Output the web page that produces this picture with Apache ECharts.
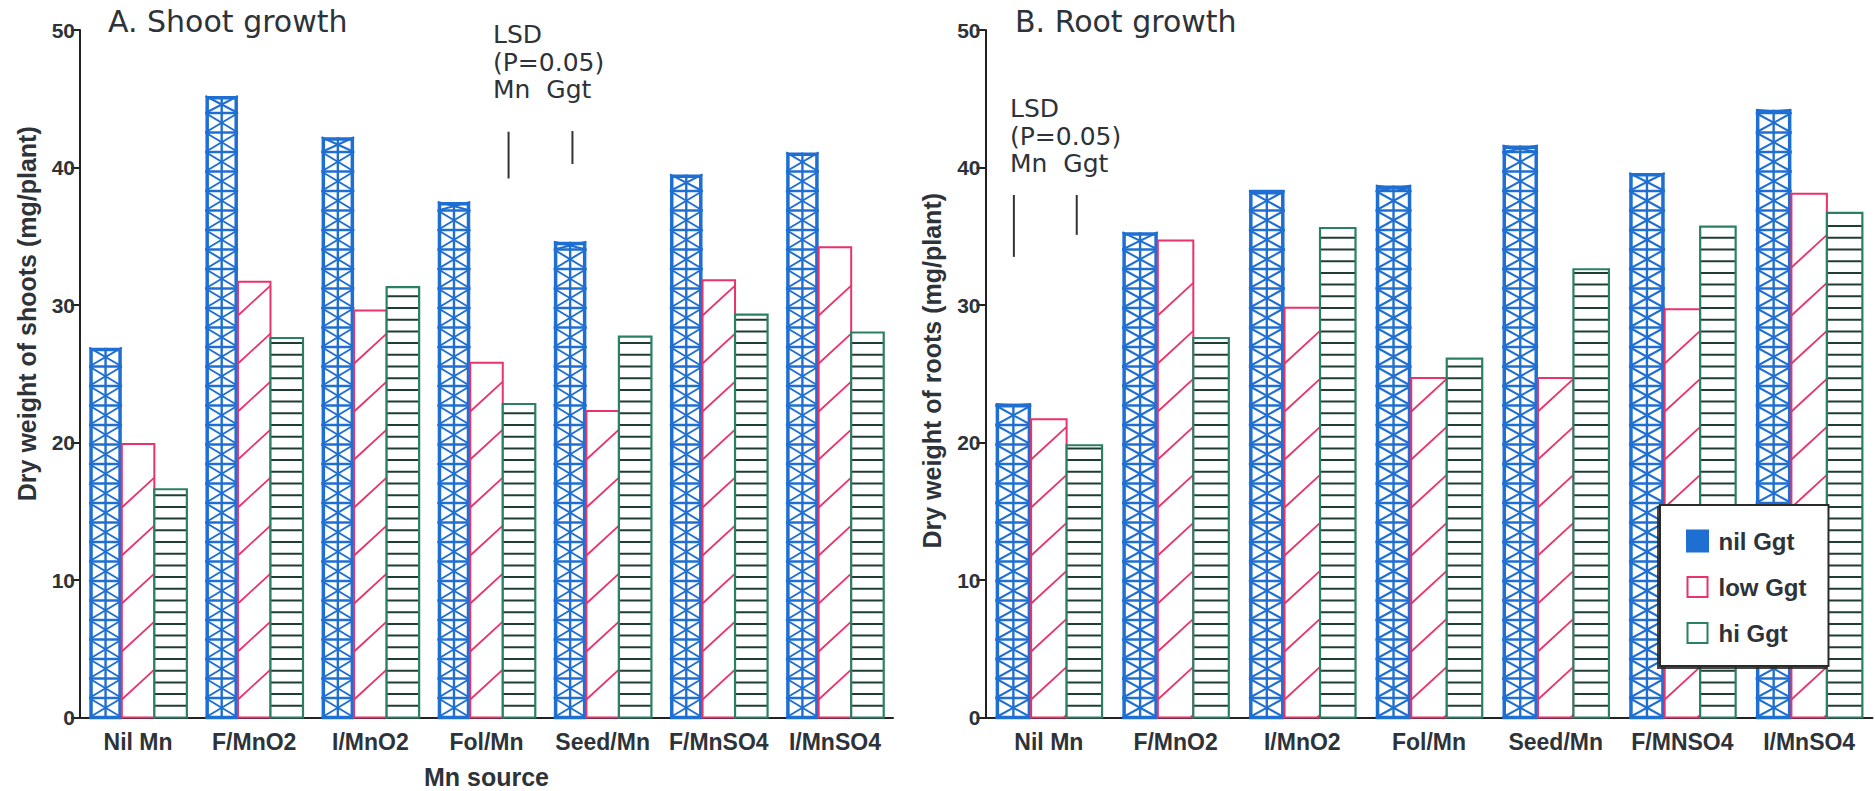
<!DOCTYPE html>
<html>
<head>
<meta charset="utf-8">
<script src="https://cdn.jsdelivr.net/npm/echarts@6/dist/echarts.min.js"></script>
<style>
html,body{margin:0;padding:0;background:#fff;}
#chart{width:1875px;height:791px;}
</style>
</head>
<body>
<div id="chart"></div>
<script>
// ---------- data ----------
const categoriesShoot = ['Nil Mn', 'F/MnO2', 'I/MnO2', 'Fol/Mn', 'Seed/Mn', 'F/MnSO4', 'I/MnSO4'];
const categoriesRoot  = ['Nil Mn', 'F/MnO2', 'I/MnO2', 'Fol/Mn', 'Seed/Mn', 'F/MNSO4', 'I/MnSO4'];
const seriesNames = ['nil Ggt', 'low Ggt', 'hi Ggt'];

const shootNil = [26.9, 45.2, 42.2, 37.5, 34.6, 39.5, 41.1];
const shootLow = [19.9, 31.7, 29.6, 25.8, 22.3, 31.8, 34.2];
const shootHi  = [16.6, 27.6, 31.3, 22.8, 27.7, 29.3, 28.0];

const rootNil = [22.8, 35.3, 38.3, 38.7, 41.6, 39.6, 44.2];
const rootLow = [21.7, 34.7, 29.8, 24.7, 24.7, 29.7, 38.1];
const rootHi  = [19.8, 27.6, 35.6, 26.1, 32.6, 35.7, 36.7];

// LSD bars: [low, high, position in category units]
const lsdShootMn  = [39.2, 42.6, 3.19];
const lsdShootGgt = [40.25, 42.65, 3.74];
const lsdRootMn   = [33.5, 38.0, -0.276];
const lsdRootGgt  = [35.1, 38.0, 0.22];

const yTicks = [0, 10, 20, 30, 40, 50];

// ---------- styles ----------
const BLUE = '#1f6fd2', RED = '#e8336b', GREEN = '#2a8062', GREEN_LINE = '#1f3d33', INK = '#2d3338';
const GROUP_RATIO = 0.84;
const FONT_B = 'Liberation Sans, Arial, sans-serif';
const FONT_T = 'DejaVu Sans, sans-serif';

function clipDiag(xa, ya, xb, yb, top, bottom) {
  if (yb > bottom || ya < top) return null;
  const slope = (yb - ya) / (xb - xa);
  if (ya > bottom) { xa = xa + (bottom - ya) / slope; ya = bottom; }
  if (yb < top) { xb = xb + (top - yb) / slope; yb = top; }
  return [xa, ya, xb, yb];
}

function barRenderer(kind) {
  return function (params, api) {
    const cat = api.value(0), val = api.value(1);
    const base = api.coord([cat, 0]);
    const topP = api.coord([cat, val]);
    const band = api.size([1, 0])[0];
    const w = band * GROUP_RATIO / 3;
    const x0 = base[0] - 1.5 * w + kind * w;
    const x1 = x0 + w;
    const yb = base[1], yt = topP[1];
    const ch = [];
    const line = (a, b, c, d, color, lw) => ch.push({
      type: 'line', shape: { x1: a, y1: b, x2: c, y2: d },
      style: { stroke: color, lineWidth: lw }, silent: true
    });
    ch.push({ type: 'rect', shape: { x: x0, y: yt, width: w, height: yb - yt },
      style: { fill: '#fff', stroke: 'none' } });
    if (kind === 0) {
      const h = 19.5;
      for (let y1 = yb; y1 > yt + 0.5; y1 -= h) {
        const y2 = Math.max(yt, y1 - h);
        line(x0, y1, x1, y2, BLUE, 2);
        line(x1, y1, x0, y2, BLUE, 2);
        if (y2 > yt) line(x0, y2, x1, y2, BLUE, 2.6);
      }
      line(x0 + w / 2, yb, x0 + w / 2, yt, BLUE, 2.4);
      ch.push({ type: 'rect', shape: { x: x0 + 1.75, y: yt + 1.75, width: w - 3.5, height: yb - yt - 1.75 },
        style: { fill: 'none', stroke: BLUE, lineWidth: 3.5 } });
    } else if (kind === 1) {
      const sp = 48, rise = 0.92 * w;
      for (let yl = yb + 30; yl - rise > yt - 1; yl -= sp) {
        const c = clipDiag(x0, yl, x1, yl - rise, yt, yb);
        if (c) line(c[0], c[1], c[2], c[3], RED, 1.8);
      }
      ch.push({ type: 'rect', shape: { x: x0, y: yt, width: w, height: yb - yt },
        style: { fill: 'none', stroke: RED, lineWidth: 2 } });
    } else {
      const sp = 11.7;
      for (let y = yb - sp; y > yt + 3; y -= sp) line(x0, y, x1, y, GREEN_LINE, 2);
      ch.push({ type: 'rect', shape: { x: x0, y: yt, width: w, height: yb - yt },
        style: { fill: 'none', stroke: GREEN, lineWidth: 2.2 } });
    }
    return { type: 'group', children: ch };
  };
}

function lsdRenderer(params, api) {
  const lo = api.coord([0, api.value(1)]);
  const hi = api.coord([0, api.value(2)]);
  const band = api.size([1, 0])[0];
  const px = lo[0] + api.value(3) * band;
  return { type: 'line', shape: { x1: px, y1: lo[1], x2: px, y2: hi[1] },
    style: { stroke: '#333', lineWidth: 2 } };
}

function toPairs(arr) { return arr.map((v, i) => [i, v]); }

const colors = [BLUE, RED, GREEN];
const shootSets = [shootNil, shootLow, shootHi];
const rootSets = [rootNil, rootLow, rootHi];

const series = [];
[shootSets, rootSets].forEach((sets, gi) => {
  sets.forEach((arr, k) => {
    series.push({
      type: 'custom', name: seriesNames[k], xAxisIndex: gi, yAxisIndex: gi,
      itemStyle: { color: colors[k] },
      encode: { x: 0, y: 1 },
      data: toPairs(arr),
      renderItem: barRenderer(k), z: 2
    });
  });
});
[[lsdShootMn, lsdShootGgt], [lsdRootMn, lsdRootGgt]].forEach((pair, gi) => {
  series.push({
    type: 'custom', name: 'LSD', xAxisIndex: gi, yAxisIndex: gi,
    encode: { x: 0, y: [1, 2] },
    data: pair.map(d => [0, d[0], d[1], d[2]]),
    renderItem: lsdRenderer, z: 3
  });
});

function yAxisCfg(gi, name, pad) {
  return {
    type: 'value', gridIndex: gi, min: yTicks[0], max: yTicks[yTicks.length - 1], interval: 10,
    splitLine: { show: false },
    axisLine: { show: true, lineStyle: { color: '#222', width: 2 } },
    axisTick: { show: true, length: 9, lineStyle: { color: '#222', width: 2 } },
    axisLabel: { fontFamily: FONT_B, fontWeight: 'bold', fontSize: 21, color: INK, margin: 5 },
    name: name, nameLocation: 'middle', nameRotate: 90, nameGap: 41,
    nameTextStyle: { fontFamily: FONT_B, fontWeight: 'bold', fontSize: 25, color: INK, padding: pad }
  };
}
function xAxisCfg(gi, cats, name) {
  return {
    type: 'category', gridIndex: gi, data: cats,
    axisLine: { show: true, lineStyle: { color: '#222', width: 2 } },
    axisTick: { show: false },
    axisLabel: { fontFamily: FONT_B, fontWeight: 'bold', fontSize: 23, color: INK, margin: 13, interval: 0 },
    name: name, nameLocation: 'middle', nameGap: 47,
    nameTextStyle: { fontFamily: FONT_B, fontWeight: 'bold', fontSize: 25, color: INK }
  };
}

const option = {
  animation: false,
  backgroundColor: '#fff',
  title: [
    { text: 'A. Shoot growth', left: 103, top: 1,
      textStyle: { fontFamily: FONT_T, fontWeight: 'normal', fontSize: 30, color: INK } },
    { text: 'B. Root growth', left: 1010, top: 1,
      textStyle: { fontFamily: FONT_T, fontWeight: 'normal', fontSize: 30, color: INK } }
  ],
  grid: [
    { left: 80, top: 30, width: 813, bottom: 73.5, containLabel: false, outerBoundsMode: 'none' },
    { left: 985.5, top: 30, width: 887, bottom: 73.5, containLabel: false, outerBoundsMode: 'none' }
  ],
  xAxis: [xAxisCfg(0, categoriesShoot, 'Mn source'), xAxisCfg(1, categoriesRoot, '')],
  yAxis: [yAxisCfg(0, 'Dry weight of shoots (mg/plant)', [0, 0, 0, 120]),
          yAxisCfg(1, 'Dry weight of roots (mg/plant)', [0, 0, 0, 6])],
  legend: {
    data: seriesNames.map((n, k) => ({
      name: n, icon: 'rect',
      itemStyle: { color: k === 0 ? BLUE : '#fff', borderColor: colors[k], borderWidth: k === 0 ? 3 : 2 }
    })),
    orient: 'vertical', left: 1660, top: 505,
    backgroundColor: '#fff', borderColor: '#2a2a2a', borderWidth: 2,
    shadowColor: 'rgba(40,40,40,0.85)', shadowOffsetX: -2, shadowOffsetY: 2, shadowBlur: 0,
    padding: [24, 22, 21, 26], itemGap: 22, itemWidth: 20, itemHeight: 20,
    textStyle: { fontFamily: FONT_B, fontWeight: 'bold', fontSize: 24, color: INK, padding: [0, 0, 0, 6] },
    selectedMode: false
  },
  graphic: [
    { type: 'text', left: 493, top: 21, z: 10,
      style: { text: 'LSD\n(P=0.05)\nMn  Ggt', fontFamily: FONT_T, fontSize: 25, lineHeight: 27.5, fill: INK } },
    { type: 'text', left: 1010, top: 95, z: 10,
      style: { text: 'LSD\n(P=0.05)\nMn  Ggt', fontFamily: FONT_T, fontSize: 25, lineHeight: 27.5, fill: INK } }
  ],
  series: series
};

const chart = echarts.init(document.getElementById('chart'), null, { renderer: 'svg', width: 1875, height: 791 });
chart.setOption(option);
</script>
</body>
</html>
